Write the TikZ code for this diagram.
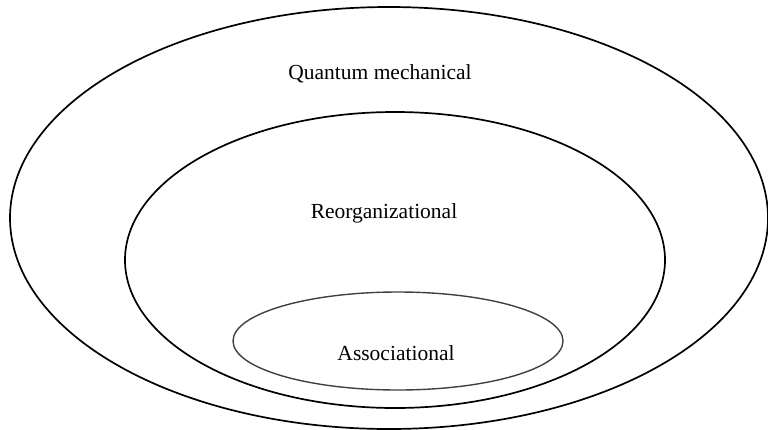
\documentclass[tikz,border=0pt]{standalone}
\usepackage{fontspec}
\setmainfont{Liberation Serif}
\usepackage{xcolor}

\begin{document}
\begin{tikzpicture}[x=1pt, y=-1pt]
  \useasboundingbox (0,0) rectangle (768,429);
  % ---- nested levels ----
  \draw[line width=1.7pt] (389,218) ellipse (379 and 211);
  \draw[line width=1.7pt] (395,260) ellipse (270 and 148);
  \draw[line width=1.4pt, black!75] (398,341) ellipse (165 and 49);

  % ---- labels ----
  \node[font=\fontsize{21.5}{26}\selectfont] (quantum) at (380,74) {Quantum mechanical};
  \node[font=\fontsize{21.5}{26}\selectfont] (reorg) at (384,213) {Reorganizational};
  \node[font=\fontsize{21.5}{26}\selectfont] (assoc) at (396,353) {Associational};
\end{tikzpicture}
\end{document}
